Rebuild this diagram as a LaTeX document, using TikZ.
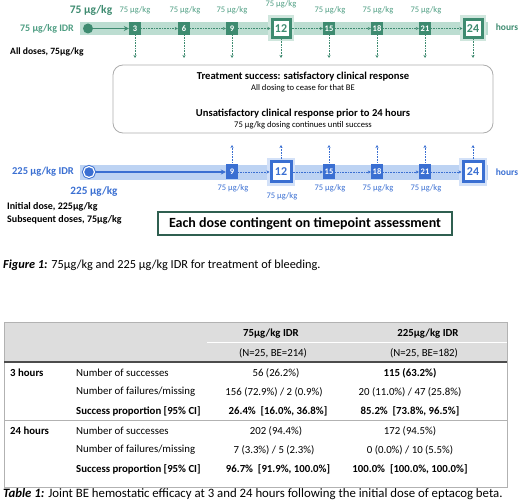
\documentclass[tikz,border=0pt]{standalone}
\usepackage{fontspec}
\setmainfont{Carlito}
\usetikzlibrary{arrows.meta}
\definecolor{gdark}{HTML}{3E8B70}
\definecolor{gband}{HTML}{BCDDD1}
\definecolor{gtext}{HTML}{4F9E83}
\definecolor{gglow}{HTML}{CFE6DD}
\definecolor{bdark}{HTML}{3A6FD2}
\definecolor{bband}{HTML}{BDD3F3}
\definecolor{bglow}{HTML}{D3E1F8}
\definecolor{hdrgray}{HTML}{DDDDDD}
\definecolor{boxgreen}{HTML}{2F5F50}
\newcommand\fsz[1]{\fontsize{#1}{#1}\selectfont}
\begin{document}
\begin{tikzpicture}[x=1pt,y=-1pt,
  gsmall/.style={rectangle, fill=gdark, text=white, font=\fsz{8.5}\bfseries, minimum width=12pt, minimum height=13pt, inner sep=0pt},
  gbig/.style={rectangle, draw=gdark, line width=3pt, fill=white, text=gdark, font=\fsz{12}\bfseries, minimum size=18pt, inner sep=0pt, preaction={draw=gglow, line width=8pt}},
  bsmall/.style={rectangle, fill=bdark, text=white, font=\fsz{8.5}\bfseries, minimum width=12pt, minimum height=15pt, inner sep=0pt},
  bbig/.style={rectangle, draw=bdark, line width=3pt, fill=white, text=bdark, font=\fsz{12}\bfseries, minimum size=20pt, inner sep=0pt, preaction={draw=bglow, line width=8pt}},
  gdose/.style={text=gtext, font=\fsz{8.5}, inner sep=0pt},
  bdose/.style={text=bdark, font=\fsz{8.5}, inner sep=0pt},
  gdots/.style={gdark, densely dotted, line width=0.6pt, -{Stealth[length=3pt,width=3pt]}},
  bdots/.style={bdark, densely dotted, line width=0.6pt, -{Stealth[length=3pt,width=3pt]}},
  gsolid/.style={gdark, line width=1.2pt, -{Stealth[length=5pt,width=5pt]}},
  bsolid/.style={bdark, line width=1.2pt, -{Stealth[length=5pt,width=5pt]}},
  cell/.style={font=\fsz{10.8}, inner sep=0pt},
  cellb/.style={font=\fsz{10.8}\bfseries, inner sep=0pt},
  tline/.style={gray!60, line width=0.6pt}
]
\useasboundingbox (0,0) rectangle (520,500);

% ---------------- green (75) timeline ----------------
\fill[gband] (80,22) rectangle (488,35);
\node[text=gtext, font=\fsz{10}\bfseries] (glab) at (47,28.5) {75 µg/kg IDR};
\node[text=gdark, font=\fsz{11.5}\bfseries] (gtop) at (91,10) {75 µg/kg};
\node[font=\fsz{9.6}\bfseries, anchor=west, inner sep=0pt] (gall) at (10,52) {All doses, 75µg/kg};
\node[circle, fill=gdark, minimum size=10pt, inner sep=0pt] (gc) at (88,28.5) {};

\node[gsmall] (g3) at (135,28.5) {3};
\node[gsmall] (g6) at (184,28.5) {6};
\node[gsmall] (g9) at (232,28.5) {9};
\node[gbig] (g12) at (281,28.5) {12};
\node[gsmall] (g15) at (329,28.5) {15};
\node[gsmall] (g18) at (377,28.5) {18};
\node[gsmall] (g21) at (425,28.5) {21};
\node[gbig] (g24) at (473,28.5) {24};
\node[text=gdark, font=\fsz{9.5}\bfseries] (ghours) at (507,27) {hours};

\node[gdose] (gd3) at (135,10) {75 µg/kg};
\node[gdose] (gd6) at (185,10) {75 µg/kg};
\node[gdose] (gd9) at (232,10) {75 µg/kg};
\node[gdose] (gd12) at (281,4) {75 µg/kg};
\node[gdose] (gd15) at (330,10) {75 µg/kg};
\node[gdose] (gd18) at (378,10) {75 µg/kg};
\node[gdose] (gd21) at (426,10) {75 µg/kg};

\draw[gsolid] (gc) -- (g3);
\draw[gdots] (g3) -- (g6);
\draw[gdots] (g6) -- (g9);
\draw[gdots] (g9) -- (g12);
\draw[gdots] (g12) -- (g15);
\draw[gdots] (g15) -- (g18);
\draw[gdots] (g18) -- (g21);
\draw[gdots] (g21) -- (g24);
\foreach \n/\x in {3/135,6/184,9/232,12/281,15/329,18/377,21/425,24/473}{
  \coordinate (gv\n) at (\x,58);
  \draw[gdots] (g\n.south) -- (gv\n);
}

% ---------------- info box ----------------
\node[draw=gray!65, line width=0.8pt, rounded corners=10pt, minimum width=380pt, minimum height=68pt] (info) at (303,99) {};
\node[font=\fsz{10.6}\bfseries] (i1) at (303,76.5) {Treatment success: satisfactory clinical response};
\node[font=\fsz{8.6}] (i2) at (303,88) {All dosing to cease for that BE};
\node[font=\fsz{10.6}\bfseries] (i3) at (303,113.5) {Unsatisfactory clinical response prior to 24 hours};
\node[font=\fsz{8.6}] (i4) at (303,125) {75 µg/kg dosing continues until success};

% ---------------- blue (225) timeline ----------------
\fill[bband] (80,165) rectangle (488,180);
\node[text=bdark, font=\fsz{10.5}\bfseries] (blab) at (43,172) {225 µg/kg IDR};
\node[circle, fill=bdark, draw=bdark, double=white, double distance=1.2pt, line width=0.9pt, minimum size=11pt, inner sep=0pt] (bc) at (89,172) {};
\node[text=bdark, font=\fsz{11.2}\bfseries] (bbot) at (94,192) {225 µg/kg};
\node[font=\fsz{10}\bfseries, anchor=west, inner sep=0pt] (bi1) at (7,207) {Initial dose, 225µg/kg};
\node[font=\fsz{10}\bfseries, anchor=west, inner sep=0pt] (bi2) at (7,219.5) {Subsequent doses, 75µg/kg};

\node[bsmall] (b9) at (232,172) {9};
\node[bbig] (b12) at (281,172) {12};
\node[bsmall] (b15) at (329,172) {15};
\node[bsmall] (b18) at (377,172) {18};
\node[bsmall] (b21) at (425,172) {21};
\node[bbig] (b24) at (473,172) {24};
\node[text=bdark, font=\fsz{9.5}\bfseries] (bhours) at (507,172) {hours};

\node[bdose] (bd9) at (233,188) {75 µg/kg};
\node[bdose] (bd12) at (282,196) {75 µg/kg};
\node[bdose] (bd15) at (330,188) {75 µg/kg};
\node[bdose] (bd18) at (378,188) {75 µg/kg};
\node[bdose] (bd21) at (426,188) {75 µg/kg};

\draw[bsolid] (bc) -- (b9);
\draw[bdots] (b9) -- (b12);
\draw[bdots] (b12) -- (b15);
\draw[bdots] (b15) -- (b18);
\draw[bdots] (b18) -- (b21);
\draw[bdots] (b21) -- (b24);
\foreach \n/\x in {9/232,12/281,15/329,18/377,21/425,24/473}{
  \coordinate (bv\n) at (\x,145);
  \draw[bdots] (b\n.north) -- (bv\n);
}

\node[draw=boxgreen, line width=1.3pt, minimum width=294pt, minimum height=23pt, font=\fsz{14}\bfseries, inner sep=0pt] (each) at (305,223.5) {Each dose contingent on timepoint assessment};

\node[anchor=west, font=\fsz{12.3}, inner sep=0pt] (fig) at (3,265) {\textbf{\textit{Figure 1:}} 75µg/kg and 225 µg/kg IDR for treatment of bleeding.};

% ---------------- table ----------------
\fill[hdrgray] (4,322) rectangle (507,362);
\draw[white, line width=0.6pt] (207,342) -- (507,342);
\draw[tline] (4,322) rectangle (507,487);
\draw[gray!60!black, line width=1.2pt] (4,362) -- (507,362);
\draw[tline] (4,420) -- (507,420);

\node[cellb] (h1) at (271,334) {75µg/kg IDR};
\node[cellb] (h2) at (428,334) {225µg/kg IDR};
\node[cell] (h3) at (273,353) {(N=25, BE=214)};
\node[cell] (h4) at (424,353) {(N=25, BE=182)};

\node[cellb, anchor=west] (r1a) at (10,373) {3 hours};
\node[cell, anchor=west] (r1b) at (76,373) {Number of successes};
\node[cell] (r1c) at (276,373) {56 (26.2\%)};
\node[cellb] (r1d) at (410,373) {115 (63.2\%)};
\node[cell, anchor=west] (r2b) at (76,392) {Number of failures/missing};
\node[cell] (r2c) at (274,392) {156 (72.9\%) / 2 (0.9\%)};
\node[cell] (r2d) at (410,392) {20 (11.0\%) / 47 (25.8\%)};
\node[cellb, anchor=west] (r3b) at (76,411) {Success proportion [95\% CI]};
\node[cellb] (r3c) at (278,411) {26.4\%~~[16.0\%, 36.8\%]};
\node[cellb] (r3d) at (410,411) {85.2\%~~[73.8\%, 96.5\%]};

\node[cellb, anchor=west] (r4a) at (10,431) {24 hours};
\node[cell, anchor=west] (r4b) at (76,431) {Number of successes};
\node[cell] (r4c) at (276,431) {202 (94.4\%)};
\node[cell] (r4d) at (410,431) {172 (94.5\%)};
\node[cell, anchor=west] (r5b) at (76,450) {Number of failures/missing};
\node[cell] (r5c) at (274,450) {7 (3.3\%) / 5 (2.3\%)};
\node[cell] (r5d) at (410,450) {0 (0.0\%) / 10 (5.5\%)};
\node[cellb, anchor=west] (r6b) at (76,469) {Success proportion [95\% CI]};
\node[cellb] (r6c) at (278,469) {96.7\%~~[91.9\%, 100.0\%]};
\node[cellb] (r6d) at (410,469) {100.0\%~~[100.0\%, 100.0\%]};

\node[anchor=west, font=\fsz{12.8}, inner sep=0pt] (tab) at (3,494) {\textbf{\textit{Table 1:}} Joint BE hemostatic efficacy at 3 and 24 hours following the initial dose of eptacog beta.};
\end{tikzpicture}
\end{document}
